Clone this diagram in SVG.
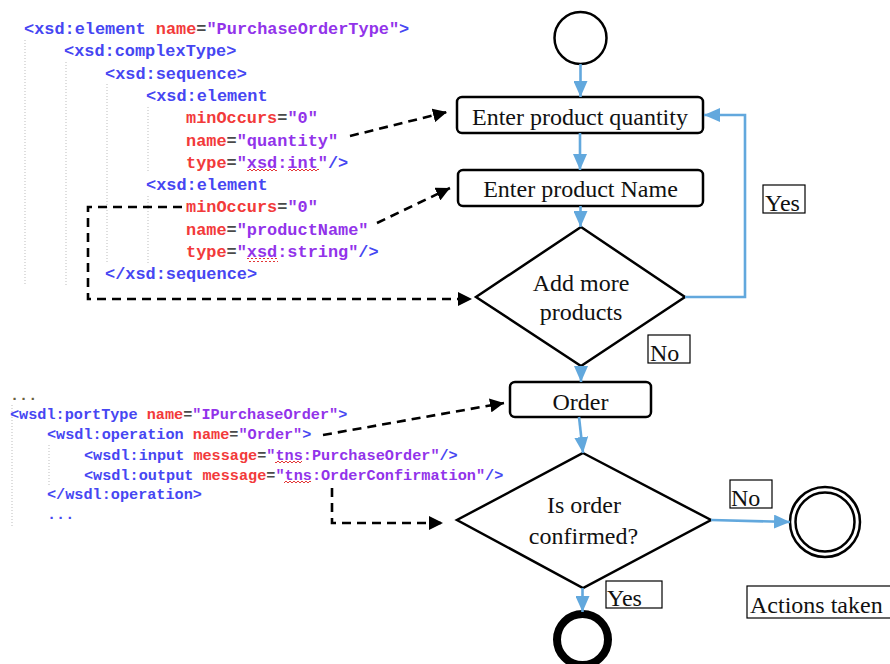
<svg xmlns="http://www.w3.org/2000/svg" width="890" height="664" viewBox="0 0 890 664">
  <style>
    .code { font-family: "Liberation Mono", "Courier New", monospace; white-space: pre; font-weight: bold; }
    .xsd { font-size: 16.9px; }
    .wsdl { font-size: 15.2px; }
    .t { fill: #4646f2; }
    .a { fill: #f23a3a; }
    .v { fill: #9233ea; }
    .e { fill: #4a4a4a; }
    .dots { fill: #6a6040; }
    .guide { stroke: #bdbdbd; stroke-width: 1; stroke-dasharray: 1 2; fill: none; }
    .squig { fill: url(#squiggle); }
    .lbl { font-family: "Liberation Serif", "Times New Roman", serif; font-size: 24px; fill: #111; }
    .shape { fill: #fff; stroke: #000; stroke-width: 2.5; }
    .tag { fill: #fff; stroke: #000; stroke-width: 1.2; }
    .flow { fill: none; stroke: #62a8dd; stroke-width: 2.6; marker-end: url(#blueHead); }
    .link { fill: none; stroke: #000; stroke-width: 2.6; stroke-dasharray: 9 6; marker-end: url(#blackHead); }
  </style>
  <defs>
    <marker id="blueHead" markerUnits="userSpaceOnUse" markerWidth="17" markerHeight="14" refX="16" refY="7" orient="auto">
      <path d="M0,0 L16,7 L0,14 z" fill="#62a8dd"/>
    </marker>
    <marker id="blackHead" markerUnits="userSpaceOnUse" markerWidth="15" markerHeight="14" refX="14" refY="7" orient="auto">
      <path d="M0,0 L14,7 L0,14 z" fill="#000"/>
    </marker>
    <pattern id="squiggle" patternUnits="userSpaceOnUse" width="4" height="4">
      <path d="M0,3 L2,1 L4,3" fill="none" stroke="#e02020" stroke-width="0.9"/>
    </pattern>
  </defs>

  <rect width="890" height="664" fill="#fff"/>

  <!-- XSD schema listing -->
  <g id="xsd-listing">
    <line class="guide" x1="25" y1="40" x2="25" y2="286"/>
    <line class="guide" x1="66" y1="62" x2="66" y2="286"/>
    <line class="guide" x1="107" y1="84" x2="107" y2="264"/>
    <line class="guide" x1="148" y1="107" x2="148" y2="172"/>
    <line class="guide" x1="148" y1="196" x2="148" y2="264"/>
    <text class="code xsd" x="24" y="34" xml:space="preserve"><tspan class="t">&lt;xsd:element</tspan> <tspan class="a">name</tspan><tspan class="e">=</tspan><tspan class="v">"PurchaseOrderType"</tspan><tspan class="t">&gt;</tspan></text>
    <text class="code xsd t" x="64" y="56.3">&lt;xsd:complexType&gt;</text>
    <text class="code xsd t" x="105" y="78.6">&lt;xsd:sequence&gt;</text>
    <text class="code xsd t" x="146" y="100.9">&lt;xsd:element</text>
    <text class="code xsd" x="186" y="123.2"><tspan class="a">minOccurs</tspan><tspan class="e">=</tspan><tspan class="v">"0"</tspan></text>
    <text class="code xsd" x="186" y="145.5"><tspan class="a">name</tspan><tspan class="e">=</tspan><tspan class="v">"quantity"</tspan></text>
    <text class="code xsd" x="186" y="167.8"><tspan class="a">type</tspan><tspan class="e">=</tspan><tspan class="v">"xsd:int"</tspan><tspan class="t">/&gt;</tspan></text>
    <text class="code xsd t" x="146" y="190.1">&lt;xsd:element</text>
    <text class="code xsd" x="186" y="212.4"><tspan class="a">minOccurs</tspan><tspan class="e">=</tspan><tspan class="v">"0"</tspan></text>
    <text class="code xsd" x="186" y="234.7"><tspan class="a">name</tspan><tspan class="e">=</tspan><tspan class="v">"productName"</tspan></text>
    <text class="code xsd" x="186" y="257"><tspan class="a">type</tspan><tspan class="e">=</tspan><tspan class="v">"xsd:string"</tspan><tspan class="t">/&gt;</tspan></text>
    <text class="code xsd t" x="105" y="279.3">&lt;/xsd:sequence&gt;</text>
    <!-- spell-check underlines -->
    <rect class="squig" x="247" y="169" width="30" height="4"/>
    <rect class="squig" x="288" y="169" width="31" height="4"/>
    <rect class="squig" x="247" y="258" width="31" height="4"/>
  </g>

  <!-- WSDL portType listing -->
  <g id="wsdl-listing">
    <line class="guide" x1="12" y1="405" x2="12" y2="527"/>
    <line class="guide" x1="49" y1="445" x2="49" y2="486"/>
    <text class="code wsdl dots" x="10" y="400">...</text>
    <text class="code wsdl" x="10" y="419" xml:space="preserve"><tspan class="t">&lt;wsdl:portType</tspan> <tspan class="a">name</tspan><tspan class="e">=</tspan><tspan class="v">"IPurchaseOrder"</tspan><tspan class="t">&gt;</tspan></text>
    <text class="code wsdl" x="47" y="439" xml:space="preserve"><tspan class="t">&lt;wsdl:operation</tspan> <tspan class="a">name</tspan><tspan class="e">=</tspan><tspan class="v">"Order"</tspan><tspan class="t">&gt;</tspan></text>
    <text class="code wsdl" x="84" y="460" xml:space="preserve"><tspan class="t">&lt;wsdl:input</tspan> <tspan class="a">message</tspan><tspan class="e">=</tspan><tspan class="v">"tns:PurchaseOrder"</tspan><tspan class="t">/&gt;</tspan></text>
    <text class="code wsdl" x="84" y="480" xml:space="preserve"><tspan class="t">&lt;wsdl:output</tspan> <tspan class="a">message</tspan><tspan class="e">=</tspan><tspan class="v">"tns:OrderConfirmation"</tspan><tspan class="t">/&gt;</tspan></text>
    <text class="code wsdl t" x="47" y="499">&lt;/wsdl:operation&gt;</text>
    <text class="code wsdl t" x="47" y="519">...</text>
    <rect class="squig" x="275" y="461" width="27" height="4"/>
    <rect class="squig" x="284" y="481" width="27" height="4"/>
  </g>

  <!-- Activity flow -->
  <g id="start">
    <circle class="shape" cx="580.5" cy="38" r="26"/>
  </g>
  <g id="enter-quantity">
    <rect class="shape" x="457" y="97" width="246" height="36" rx="5"/>
    <text class="lbl" x="580" y="125" text-anchor="middle">Enter product quantity</text>
  </g>
  <g id="enter-name">
    <rect class="shape" x="458" y="170" width="245" height="36" rx="5"/>
    <text class="lbl" x="580.5" y="197" text-anchor="middle">Enter product Name</text>
  </g>
  <g id="add-more">
    <polygon class="shape" points="581,227 685,297 581,366 476,297"/>
    <text class="lbl" x="581" y="291" text-anchor="middle">Add more</text>
    <text class="lbl" x="581" y="320" text-anchor="middle">products</text>
  </g>
  <g id="order">
    <rect class="shape" x="510" y="382" width="141" height="35" rx="5"/>
    <text class="lbl" x="580.5" y="410" text-anchor="middle">Order</text>
  </g>
  <g id="confirmed">
    <polygon class="shape" points="583,453 711,520 583,588 457,520"/>
    <text class="lbl" x="584" y="513" text-anchor="middle">Is order</text>
    <text class="lbl" x="583.5" y="544" text-anchor="middle">confirmed?</text>
  </g>
  <g id="actions-end">
    <circle class="shape" cx="825" cy="522" r="35"/>
    <circle class="shape" cx="825" cy="522" r="29.5"/>
  </g>
  <g id="actions-label">
    <rect class="tag" x="747" y="586" width="146" height="32"/>
    <text class="lbl" x="750" y="613">Actions taken</text>
  </g>
  <g id="finish">
    <circle cx="582.5" cy="639.5" r="25.5" fill="#fff" stroke="#000" stroke-width="8"/>
  </g>

  <!-- Branch labels -->
  <g id="label-yes-loop">
    <rect class="tag" x="763" y="185" width="42" height="28"/>
    <text class="lbl" x="765" y="211">Yes</text>
  </g>
  <g id="label-no-more">
    <rect class="tag" x="648" y="335" width="42" height="28"/>
    <text class="lbl" x="650" y="361">No</text>
  </g>
  <g id="label-no-confirm">
    <rect class="tag" x="730" y="480" width="42" height="28"/>
    <text class="lbl" x="731" y="506">No</text>
  </g>
  <g id="label-yes-confirm">
    <rect class="tag" x="606" y="581" width="56" height="27"/>
    <text class="lbl" x="607" y="606">Yes</text>
  </g>

  <!-- Connectors -->
  <g id="connectors">
    <path class="flow" d="M580.5,64 V97"/>
    <path class="flow" d="M580,133 V170"/>
    <path class="flow" d="M580.5,206 V227"/>
    <path class="flow" d="M685,297 H745 V115 H704"/>
    <path class="flow" d="M581,366 V382"/>
    <path class="flow" d="M579,417 L583,453"/>
    <path class="flow" d="M711,520 L790,522"/>
    <path class="flow" d="M582.5,588 V612"/>

    <path class="link" d="M350,136 L447,112"/>
    <path class="link" d="M377,223 L450,188"/>
    <path class="link" d="M182,207 H88 V299 H472"/>
    <path class="link" d="M323,435 L504,403"/>
    <path class="link" d="M332,488 V523 H443"/>
  </g>
</svg>
